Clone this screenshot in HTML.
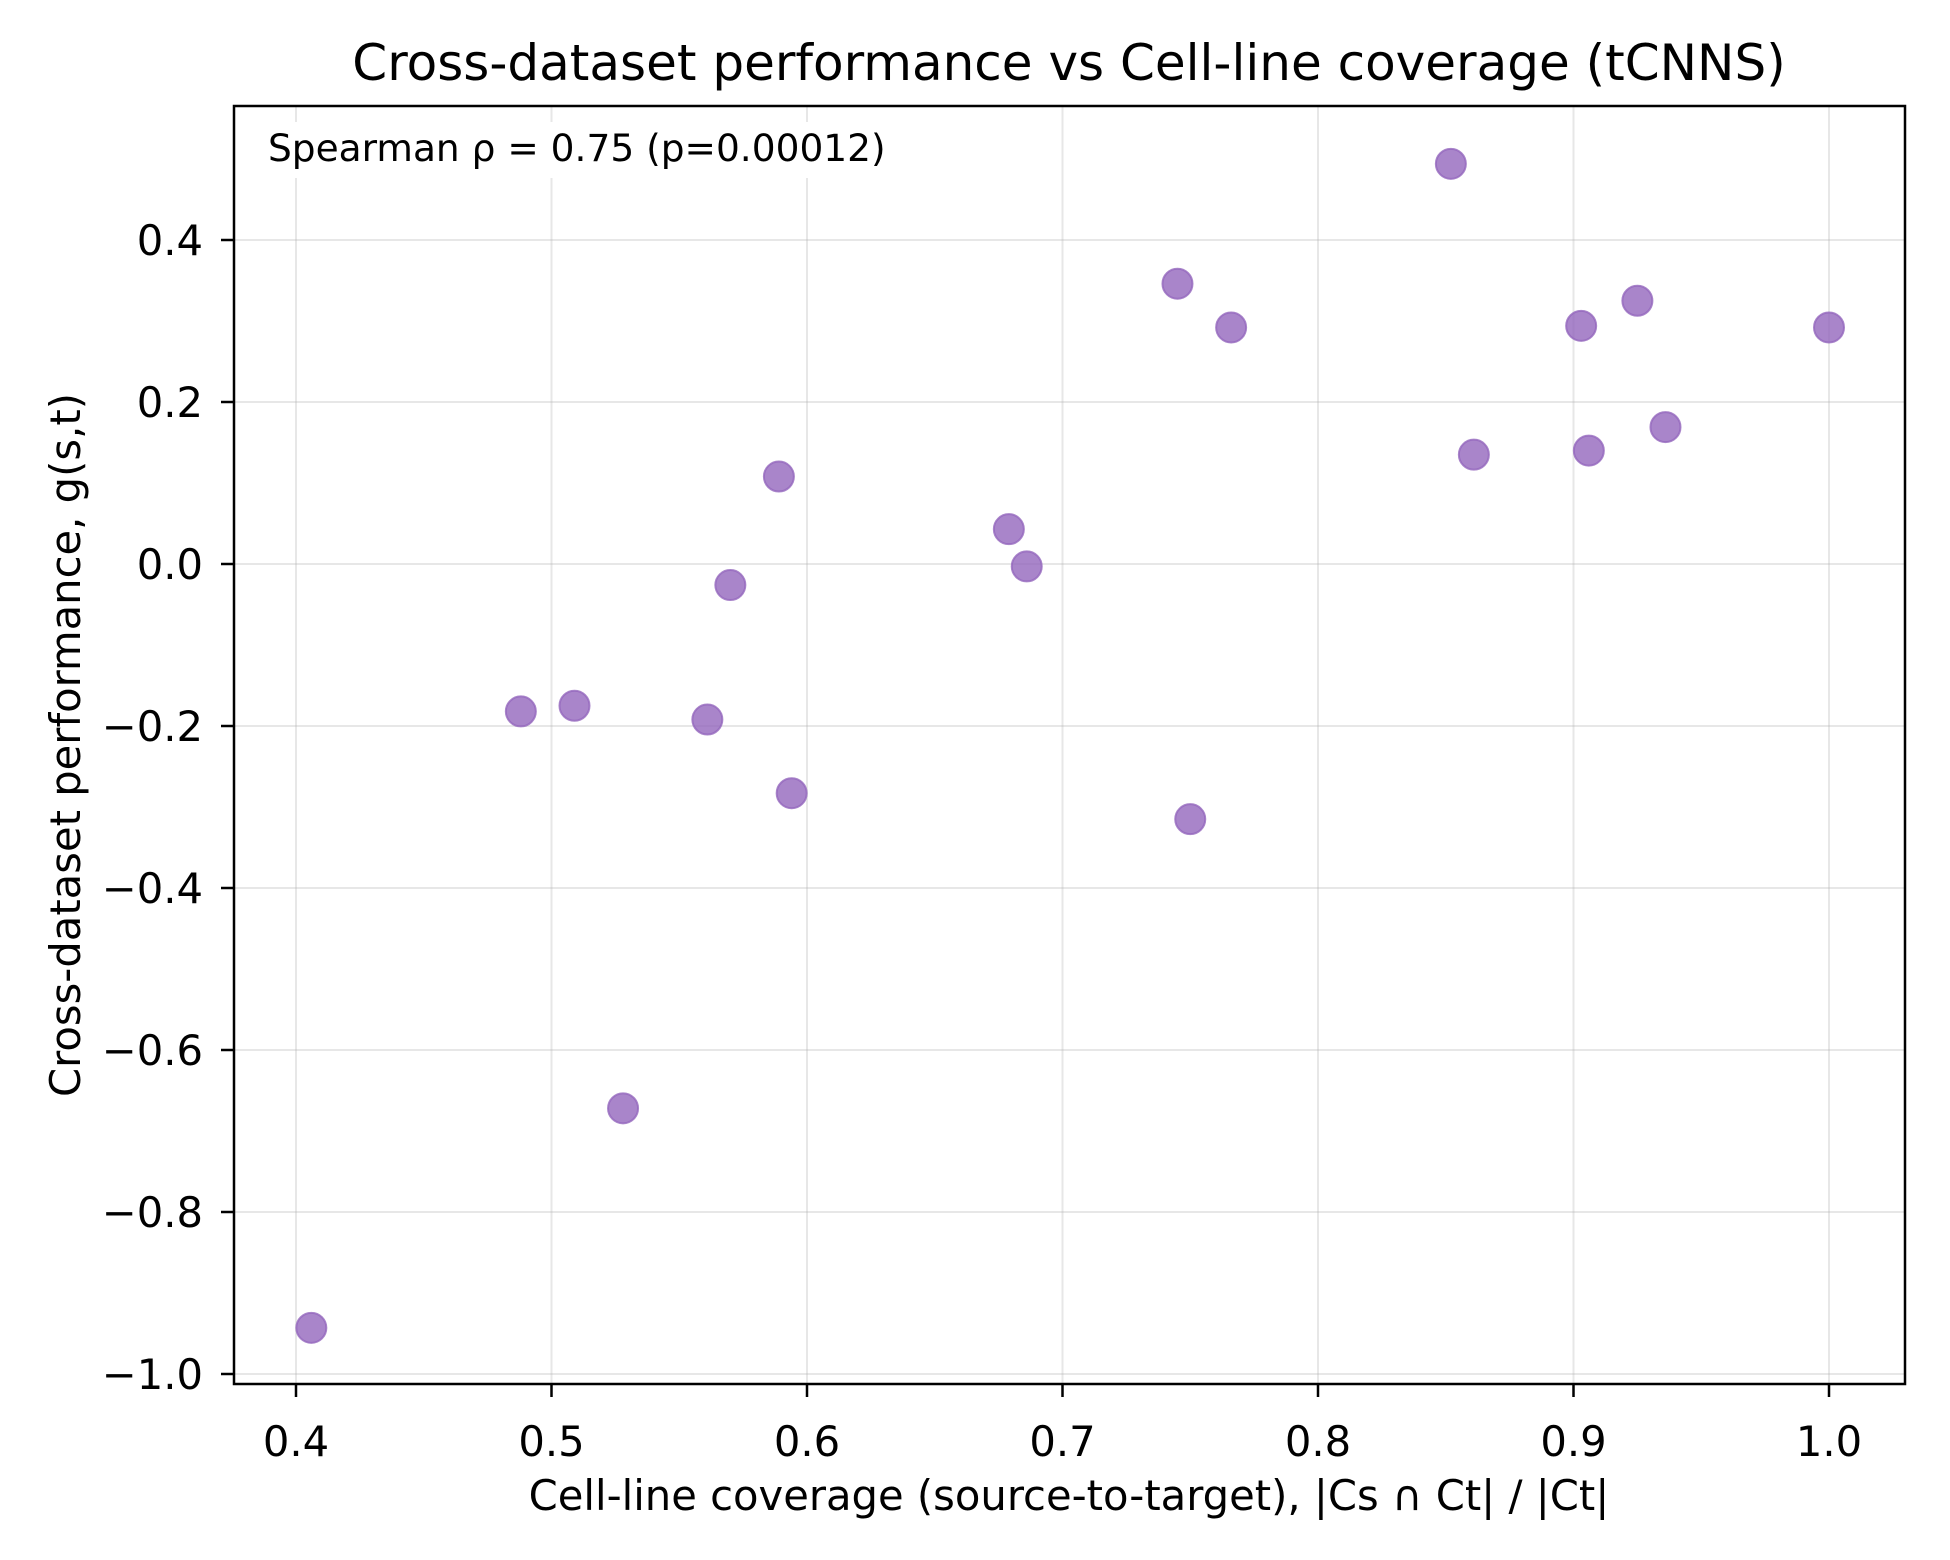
<!DOCTYPE html>
<html><head><meta charset="utf-8"><style>
html,body{margin:0;padding:0;background:#fff;}
svg{display:block;font-family:"DejaVu Sans","Liberation Sans",sans-serif;}
</style></head><body>
<svg id="chart" width="1950" height="1560" viewBox="0 0 1950 1560" xmlns="http://www.w3.org/2000/svg">
<rect width="1950" height="1560" fill="#fff"/>
<g id="grid"></g>
<g id="points"></g>
<rect x="234" y="106" width="1671" height="1278" fill="none" stroke="#000" stroke-width="2.5"/>
<g id="ticks"></g>
<text x="1069" y="80" font-size="50" text-anchor="middle">Cross-dataset performance vs Cell-line coverage (tCNNS)</text>
<text x="1069" y="1510" font-size="41.7" text-anchor="middle">Cell-line coverage (source-to-target), |Cs ∩ Ct| / |Ct|</text>
<text x="0" y="0" font-size="41.7" text-anchor="middle" transform="translate(80,745) rotate(-90)">Cross-dataset performance, g(s,t)</text>
<rect x="258" y="122" width="640" height="56" fill="#fff"/>
<text x="268" y="161" font-size="37.5">Spearman ρ = 0.75 (p=0.00012)</text>
</svg>
<script>
const xValues=[0.406,0.488,0.509,0.528,0.561,0.570,0.589,0.594,0.679,0.686,0.745,0.750,0.766,0.852,0.861,0.903,0.906,0.925,0.936,1.0];
const yValues=[-0.943,-0.182,-0.175,-0.672,-0.192,-0.026,0.108,-0.283,0.043,-0.003,0.346,-0.315,0.292,0.494,0.135,0.294,0.140,0.325,0.169,0.292];
const xTicks=[0.4,0.5,0.6,0.7,0.8,0.9,1.0];
const yTicks=[-1.0,-0.8,-0.6,-0.4,-0.2,0.0,0.2,0.4];
const xTickLabels=["0.4","0.5","0.6","0.7","0.8","0.9","1.0"];
const yTickLabels=["−1.0","−0.8","−0.6","−0.4","−0.2","0.0","0.2","0.4"];
function sx(v){return 296+(v-0.4)*2555;}
function sy(v){return 1374-(v+1.0)*810;}
const NS="http://www.w3.org/2000/svg";
const grid=document.getElementById('grid'),pts=document.getElementById('points'),tk=document.getElementById('ticks');
function mk(tag,attrs,parent){const e=document.createElementNS(NS,tag);for(const k in attrs)e.setAttribute(k,attrs[k]);parent.appendChild(e);return e;}
xTicks.forEach((v,i)=>{
  const g=mk('line',{x1:sx(v),x2:sx(v),y1:106,y2:1384,stroke:'#b0b0b0','stroke-opacity':0.3,'stroke-width':2},grid);
  
  
  const t=mk('line',{x1:sx(v),x2:sx(v),y1:1384,y2:1397,stroke:'#000','stroke-width':2.5},tk);
  
  
  const l=mk('text',{x:sx(v),y:1456,'font-size':41.7,'text-anchor':'middle'},tk);
  l.textContent=xTickLabels[i];
  
  
});
yTicks.forEach((v,i)=>{
  const g=mk('line',{x1:234,x2:1905,y1:sy(v),y2:sy(v),stroke:'#b0b0b0','stroke-opacity':0.3,'stroke-width':2},grid);
  
  
  const t=mk('line',{x1:221,x2:234,y1:sy(v),y2:sy(v),stroke:'#000','stroke-width':2.5},tk);
  
  
  const l=mk('text',{x:203,y:sy(v)+15,'font-size':41.7,'text-anchor':'end'},tk);
  l.textContent=yTickLabels[i];
  
  
});
xValues.forEach((v,i)=>{
  const c=mk('circle',{cx:sx(v),cy:sy(yValues[i]),r:15,fill:'#9467bd','fill-opacity':0.8,stroke:'#9467bd','stroke-opacity':0.8,'stroke-width':2},pts);
  
  
});
</script>
</body></html>
